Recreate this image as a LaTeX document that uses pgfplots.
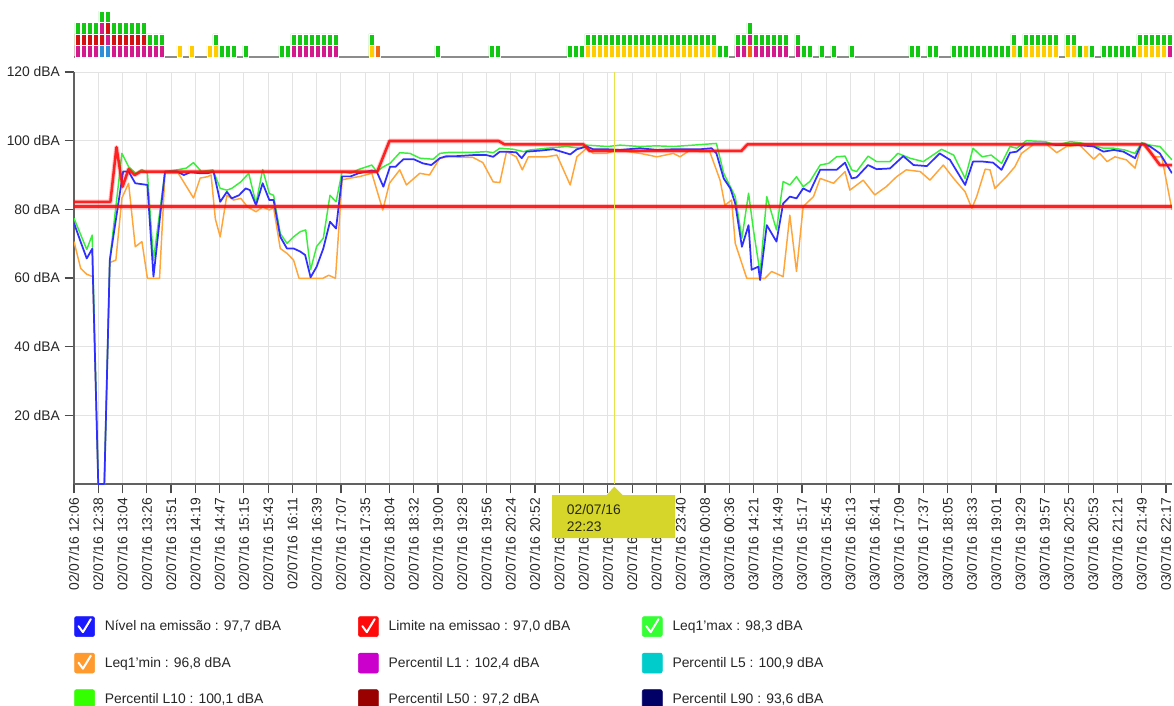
\documentclass[border=0pt]{standalone}
\usepackage{pgfplots}
\pgfplotsset{compat=1.18}
\usepackage{fontspec}
\setmainfont{Liberation Sans}
\definecolor{lBlue}{HTML}{2F2FFF}
\definecolor{lGreen}{HTML}{3CEE3C}
\definecolor{lOrange}{HTML}{FFA53A}
\definecolor{lRed}{HTML}{FF1010}
\definecolor{gBlue}{HTML}{1A1AFF}
\definecolor{gRed}{HTML}{FF0A0A}
\definecolor{gGreen}{HTML}{33FF33}
\definecolor{gOrange}{HTML}{FF9A2E}
\definecolor{gMag}{HTML}{CC00CC}
\definecolor{gCyan}{HTML}{00CCCC}
\definecolor{gL10}{HTML}{33FF00}
\definecolor{gL50}{HTML}{990000}
\definecolor{gL90}{HTML}{000066}
\definecolor{sGreen}{HTML}{12C812}
\definecolor{sRed}{HTML}{D41010}
\definecolor{sPink}{HTML}{D4198C}
\definecolor{sBlue}{HTML}{2E8FD8}
\definecolor{sYellow}{HTML}{FFCC00}
\definecolor{sOrange}{HTML}{F26A10}
\definecolor{tipY}{HTML}{D6D62A}
\definecolor{tipL}{HTML}{E4E44A}
\definecolor{tipT}{HTML}{2A2A10}
\pgfplotsset{
  chk/.style={legend image code/.code={\fill[#1,rounded corners=1.5pt] (0pt,-7.5pt) rectangle (15pt,7.5pt);
     \draw[white,line width=1.5pt,line cap=round,line join=round] (3pt,0.3pt)--(6.3pt,-4.2pt)--(12.2pt,5.5pt);}},
  sq/.style={legend image code/.code={\fill[#1,rounded corners=1.5pt] (0pt,-7.5pt) rectangle (15pt,7.5pt);}},
  cell/.style={ybar, bar width=0.8333, bar shift=0pt, draw=white, line width=0.3pt, fill=#1},
}
\newcommand{\lf}{\fontsize{10.4}{12}\selectfont}
\begin{document}
\begin{tikzpicture}[x=1pt,y=1pt]
\useasboundingbox (0,0) rectangle (880.5,-529.5);
% ---------- event strip ----------
\begin{axis}[at={(55.5pt,-42.75pt)}, anchor=south west, width=823.5pt, height=34.5pt,
  scale only axis, xmin=-0.583, xmax=182.42, ymin=0, ymax=4,
  hide y axis, axis x line*=bottom, x axis line style={-, line width=1.5pt, color=black!45},
  xtick=\empty, clip=false]
% row 4
\addplot[cell=sGreen] coordinates {(4,4) (5,4)};
% row 3
\addplot[cell=sGreen] coordinates {(0,3)(1,3)(2,3)(3,3)(6,3)(7,3)(8,3)(9,3)(10,3)(11,3)(112,3)};
\addplot[cell=sPink] coordinates {(4,3)};
\addplot[cell=sRed] coordinates {(5,3)};
% row 2
\addplot[cell=sRed] coordinates {(0,2)(1,2)(2,2)(3,2)(4,2)(6,2)(7,2)(8,2)(9,2)(10,2)(11,2)};
\addplot[cell=sPink] coordinates {(5,2)(112,2)};
\addplot[cell=sGreen] coordinates {(12,2)(13,2)(14,2)(23,2)(36,2)(37,2)(38,2)(39,2)(40,2)(41,2)(42,2)(43,2)(49,2)
 (85,2)(86,2)(87,2)(88,2)(89,2)(90,2)(91,2)(92,2)(93,2)(94,2)(95,2)(96,2)(97,2)(98,2)(99,2)(100,2)(101,2)(102,2)(103,2)(104,2)(105,2)(106,2)
 (110,2)(111,2)(113,2)(114,2)(115,2)(116,2)(117,2)(118,2)(120,2)(156,2)(158,2)(159,2)(160,2)(161,2)(162,2)(163,2)(165,2)(166,2)
 (177,2)(178,2)(179,2)(180,2)(181,2)(182,2)};
% row 1
\addplot[cell=sPink] coordinates {(0,1)(1,1)(2,1)(3,1)(6,1)(7,1)(8,1)(9,1)(10,1)(11,1)(12,1)(13,1)(14,1)
 (36,1)(37,1)(38,1)(39,1)(40,1)(41,1)(42,1)(43,1)(110,1)(111,1)(113,1)(114,1)(115,1)(116,1)(117,1)(118,1)(120,1)(182,1)};
\addplot[cell=sBlue] coordinates {(4,1)(5,1)};
\addplot[cell=sYellow] coordinates {(17,1)(19,1)(22,1)(23,1)(49,1)
 (85,1)(86,1)(87,1)(88,1)(89,1)(90,1)(91,1)(92,1)(93,1)(94,1)(95,1)(96,1)(97,1)(98,1)(99,1)(100,1)(101,1)(102,1)(103,1)(104,1)(105,1)(106,1)
 (156,1)(158,1)(159,1)(160,1)(161,1)(162,1)(163,1)(165,1)(166,1)(168,1)(177,1)(178,1)(179,1)(180,1)(181,1)};
\addplot[cell=sOrange] coordinates {(50,1)(112,1)};
\addplot[cell=sGreen] coordinates {(24,1)(25,1)(26,1)(28,1)(34,1)(35,1)(60,1)(69,1)(70,1)(82,1)(83,1)(84,1)(107,1)(108,1)
 (121,1)(122,1)(124,1)(126,1)(129,1)(139,1)(140,1)(142,1)(143,1)
 (146,1)(147,1)(148,1)(149,1)(150,1)(151,1)(152,1)(153,1)(154,1)(155,1)(157,1)(167,1)(169,1)
 (171,1)(172,1)(173,1)(174,1)(175,1)(176,1)};
\end{axis}
% ---------- main chart ----------
\begin{axis}[at={(55.5pt,-363pt)}, anchor=south west, width=823.5pt, height=309pt,
  scale only axis, xmin=0, xmax=181, ymin=0, ymax=120,
  axis x line*=bottom, axis y line*=left,
  axis line style={-, line width=1.5pt, color=black!62},
  xtick={0,4,...,180},
  xticklabels={02/07/16 12:06, 02/07/16 12:38, 02/07/16 13:04, 02/07/16 13:26, 02/07/16 13:51, 02/07/16 14:19, 02/07/16 14:47, 02/07/16 15:15, 02/07/16 15:43, 02/07/16 16:11, 02/07/16 16:39, 02/07/16 17:07, 02/07/16 17:35, 02/07/16 18:04, 02/07/16 18:32, 02/07/16 19:00, 02/07/16 19:28, 02/07/16 19:56, 02/07/16 20:24, 02/07/16 20:52, 02/07/16 21:20, 02/07/16 21:48, 02/07/16 22:16, 02/07/16 22:44, 02/07/16 23:12, 02/07/16 23:40, 03/07/16 00:08, 03/07/16 00:36, 03/07/16 14:21, 03/07/16 14:49, 03/07/16 15:17, 03/07/16 15:45, 03/07/16 16:13, 03/07/16 16:41, 03/07/16 17:09, 03/07/16 17:37, 03/07/16 18:05, 03/07/16 18:33, 03/07/16 19:01, 03/07/16 19:29, 03/07/16 19:57, 03/07/16 20:25, 03/07/16 20:53, 03/07/16 21:21, 03/07/16 21:49, 03/07/16 22:17},
  ytick={20,40,60,80,100,120},
  yticklabels={20 dBA,40 dBA,60 dBA,80 dBA,100 dBA,120 dBA},
  grid=major, major grid style={line width=0.75pt, color=black!11},
  tick align=outside, major tick length=7pt,
  tick style={line width=0.9pt, color=black!70},
  x tick label style={rotate=90, anchor=east, font=\lf, text=black!85},
  y tick label style={font=\lf, text=black!85},
  legend columns=3, legend cell align=left,
  legend style={at={(0,0)}, anchor=north west, yshift=-99pt, draw=none, fill=none,
     inner sep=0pt, row sep=12pt, nodes={inner sep=0pt, font=\lf, text=black!85},
     /tikz/every odd column/.append style={column sep=7.5pt}},
]
\addplot[forget plot, color=lOrange, line width=1.1pt, line join=round] coordinates {
(0,70.6) (1.1,62.8) (2.1,61.1) (3.1,60.4) (4,0) (5,0) (5.9,64.5) (6.9,65.2) (7.9,83.3) (9,87.6) (10.1,69.1) (11.2,70.6) (12.1,59.9) (14.1,59.9)
(15,90.5) (17.2,90.5) (19.7,83.3) (20.8,89.1) (22,89.5) (22.6,90) (23.3,77.2) (24.1,72) (25.2,84.1) (26.3,82.7) (27.5,83.2) (28.6,80.7)
(30,79.3) (31.1,80.7) (32.2,79.8) (32.9,80.5) (34,68.6) (35.1,67.2) (36.2,65.2) (37.1,59.9) (38.9,59.9) (40,59.9) (41,59.9) (42,60.8) (43.1,59.9)
(44.2,88.6) (45.6,89.1) (47.2,89.6) (49.1,90.5) (50.9,79.8) (52,87.6) (53.7,91.5) (54.8,87.1) (57,90.5) (58.6,90) (60.3,94.9) (61.9,95.3)
(65.8,95.1) (67.4,93.6) (69.1,88) (70.2,87.8) (71.3,96.8) (72.9,95.3) (73.9,91.5) (74.9,95.3) (77.9,95.3) (79.6,95.8) (81.8,87.1) (82.9,95.3)
(84.5,97.8) (85.6,96.3) (87.8,96.3) (89.5,97.3) (93.3,96.3) (96.1,95.3) (98.8,96.3) (99.9,95.3) (101.6,97.3) (103.2,96.8) (104.8,96.8)
(106.5,88.5) (107.3,81.2) (108.4,82.7) (109,70.1) (110.9,59.9) (112.5,59.9) (113.9,59.9) (115,61.9) (116.9,60.4) (118,78.3) (119.1,61.9)
(120.2,80.8) (121.9,83.7) (123,89) (125.2,87.6) (127.1,91) (127.9,85.6) (130.1,88.5) (132,84.2) (133.9,86.6) (135.6,89.5) (137.2,91.5)
(139.5,91) (141.1,88.5) (143.3,92.9) (145,89) (146.9,85.1) (148,80.3) (148.8,83.7) (150.2,91.7) (151,91.5) (151.8,86.1) (153.7,89.5)
(155.1,92.4) (156.2,96.3) (158.4,99.2) (160.3,99) (162,96.5) (163.6,98.3) (165.8,98.7) (168.1,94.6) (169.1,96.3) (170.3,93.9) (171.6,95.3)
(173.5,94.4) (174.9,92) (176,99.2) (178,95.3) (179.3,95.3) (181,79.8)};
\addplot[forget plot, color=lGreen, line width=1.1pt, line join=round] coordinates {
(0,77.4) (2.1,68.3) (3,72.5) (4,0) (5,0) (5.9,65.2) (7.9,96.3) (9,92.4) (10.2,90.5) (11.2,91.6) (12.1,90.5) (13.1,65.2) (15,91) (17,91.5)
(18.5,92) (19.7,93.6) (21,91) (22.9,91.5) (24.1,86.1) (25.2,85.6) (26,86.1) (27.5,88) (28.8,90.5) (30,81.7) (31.1,91.6) (32.2,84.6)
(32.9,84.1) (34,73) (35.1,70.1) (36.2,72) (37.3,73.5) (38.2,74) (39,62.4) (40,69.2) (41.1,71.6) (42.2,84.1) (43.2,82.2) (44.2,91)
(45.6,90.5) (46.9,91.6) (49.1,92.9) (49.9,91) (51,92.4) (52.1,93.4) (53.7,96.5) (55.4,96.3) (57,94.9) (59.2,94.6) (60.3,96.3) (61.9,96.6)
(65.8,96.6) (68,96.8) (69.1,96.5) (70.2,97.8) (72.4,97.5) (74.1,96.8) (75.2,97.3) (77.9,97.8) (81.2,98.3) (83.5,97.8) (84.5,98.7) (88,98.3)
(90,98.7) (93.3,98.3) (96,98.5) (98.8,98.3) (102.1,98.7) (105.9,99.2) (107.1,90.5) (109,83.7) (110.1,71.6) (111.2,84.7) (112,74)
(113.1,61.4) (114.2,83.7) (115.8,74) (116.9,88.1) (118,87.1) (119.1,89.5) (120.2,86.6) (121.3,88.1) (123,92.9) (124.4,93.4) (125.7,95.3)
(127.1,95.5) (128.2,91.5) (129,91) (130.9,95.5) (132.3,93.9) (134.5,93.9) (135.8,96.3) (137.8,94.9) (140,93.9) (143,97.5) (145,95.8)
(146.9,89) (148.2,97.8) (149.7,95.3) (151.2,95.8) (152.9,93.4) (154.3,98.3) (155.4,97.8) (157,100) (160.1,99.7) (162,98.7) (164.2,99.7)
(165.8,99.4) (168.1,98.5) (169.7,97.8) (171.4,97.8) (173.2,97.3) (174.9,96.3) (176,99.4) (177.4,98.7) (179,98.3) (181,94.4)};
\addplot[forget plot, color=lBlue, line width=1.3pt, line join=round] coordinates {
(0,76) (1,71) (2.1,65.7) (3,68.5) (4,0) (5,0) (5.9,65.2) (8.1,91) (9,91) (10.1,87.6) (12.1,87.1) (13.1,60.4) (15,91) (17,91) (18.1,90)
(19.2,90.8) (20.9,90.5) (22,90.5) (23,91) (24.1,82.2) (25.2,85.1) (26,83.2) (27.2,84.1) (28.3,86.1) (29,85.6) (30,81.2) (31.1,87.6)
(32.2,82.7) (32.9,82.7) (34,72) (35.1,68.6) (36.2,68.6) (37.3,67.7) (38.1,66.7) (39,60.2) (40,63.3) (41.1,68.6) (42.2,76.4) (43.2,74.4)
(44.2,89.6) (45.6,89.6) (46.9,90.5) (49.1,91.3) (49.9,91) (51,86.6) (52.1,92.4) (53,92.4) (54.3,94.6) (56,94.6) (57.5,93.4) (58.9,92.9)
(60.3,94.9) (61.4,95.5) (63.1,95.5) (65.8,95.8) (68,95.8) (69.1,95.3) (70.2,96.8) (71.3,96.8) (72.9,96.6) (73.8,94.9) (74.6,96.8)
(76.8,97.1) (79,97.5) (80.7,96.6) (81.8,96) (82.9,97.5) (84.5,98.3) (85.6,97.5) (87.8,97.5) (90,97.3) (93.3,97.8) (96.1,97.3) (98.8,97.5)
(101,97.5) (103.2,97.5) (105.1,97.8) (105.9,96.3) (107.1,89) (108.2,86.1) (109,81.7) (110.1,69.1) (111.2,75.4) (111.7,62.4) (112.8,63.3)
(113.1,59.4) (114.2,75.4) (115.8,70.6) (116.9,81.7) (118,83.7) (119.1,83.2) (120.2,86.1) (121.3,85.1) (123,91.5) (124.4,91.5) (125.7,91.5)
(127.1,93.6) (128.2,89) (129,89.3) (130.9,92.9) (132.3,91.7) (134.5,91.9) (136.7,95.5) (138.4,92.9) (140.6,92.6) (142.7,96.3) (144.4,94.4)
(146.9,87.1) (148.2,93.9) (149.9,93.9) (151.5,93.6) (152.9,91.5) (154.3,96.5) (155.4,96.8) (157,99.2) (160.1,99.2) (162,98.7) (163.9,98.7)
(165.6,98.7) (168.1,98.3) (169.7,96.8) (171.4,97.3) (173,96.8) (174.9,94.9) (176,99.2) (177.4,98.3) (179,96.3) (181,90.5)};
\addplot[forget plot, color=lRed, line width=3.4pt, opacity=0.25, line join=round] coordinates {
(0,82.2) (6,82.2) (7,98.1) (8,86.6) (9,91.7) (10,90) (11,91) (50,91) (52,99.9) (70,99.9) (71,98.9) (84,98.9) (85,97.0) (110,97.0)
(111,98.9) (176.5,98.9) (179,92.9) (181,92.9)};
\addplot[forget plot, color=lRed, line width=3.4pt, opacity=0.25] coordinates {(0,80.8) (181,80.8)};
\addplot[forget plot, color=lRed, line width=1.9pt, opacity=0.9, line join=round] coordinates {
(0,82.2) (6,82.2) (7,98.1) (8,86.6) (9,91.7) (10,90) (11,91) (50,91) (52,99.9) (70,99.9) (71,98.9) (84,98.9) (85,97.0) (110,97.0)
(111,98.9) (176.5,98.9) (179,92.9) (181,92.9)};
\addplot[forget plot, color=lRed, line width=1.9pt, opacity=0.9] coordinates {(0,80.8) (181,80.8)};
\draw[tipL, line width=0.8pt] (axis cs:89.05,0) -- (axis cs:89.05,120);
% legend
\addlegendimage{chk=gBlue}\addlegendentry{\makebox[190pt][l]{Nível na emissão : 97,7 dBA}}
\addlegendimage{chk=gRed}\addlegendentry{\makebox[190pt][l]{Limite na emissao : 97,0 dBA}}
\addlegendimage{chk=gGreen}\addlegendentry{\makebox[190pt][l]{Leq1'max : 98,3 dBA}}
\addlegendimage{chk=gOrange}\addlegendentry{\makebox[190pt][l]{Leq1'min : 96,8 dBA}}
\addlegendimage{sq=gMag}\addlegendentry{\makebox[190pt][l]{Percentil L1 : 102,4 dBA}}
\addlegendimage{sq=gCyan}\addlegendentry{\makebox[190pt][l]{Percentil L5 : 100,9 dBA}}
\addlegendimage{sq=gL10}\addlegendentry{\makebox[190pt][l]{Percentil L10 : 100,1 dBA}}
\addlegendimage{sq=gL50}\addlegendentry{\makebox[190pt][l]{Percentil L50 : 97,2 dBA}}
\addlegendimage{sq=gL90}\addlegendentry{\makebox[190pt][l]{Percentil L90 : 93,6 dBA}}
\end{axis}
% tooltip
\fill[tipY] (414,-371.25) -- (455,-371.25) -- (460.7,-365) -- (467,-371.25) -- (506.25,-371.25) -- (506.25,-403.5) -- (414,-403.5) -- cycle;
\node[anchor=base west, inner sep=0pt, font=\lf, text=tipT] at (425,-385.7) {02/07/16};
\node[anchor=base west, inner sep=0pt, font=\lf, text=tipT] at (425,-398.8) {22:23};
\end{tikzpicture}
\end{document}
